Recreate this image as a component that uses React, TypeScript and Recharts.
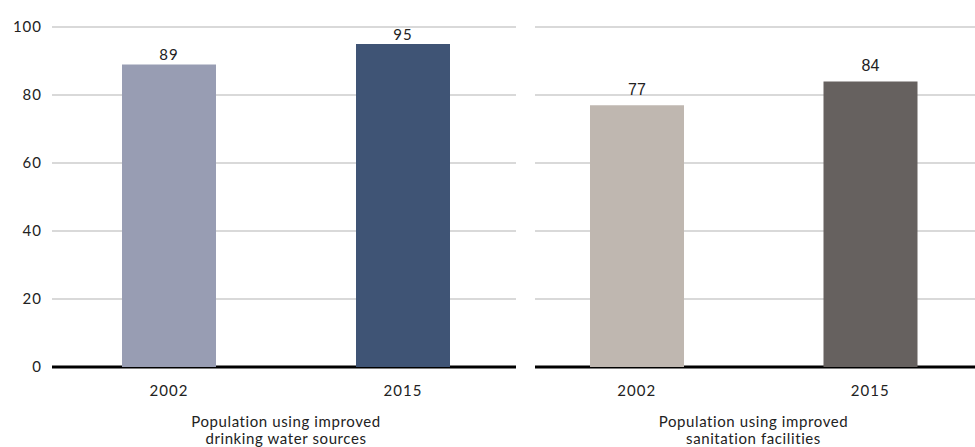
import { BarChart, Bar, XAxis, YAxis, CartesianGrid, Cell, LabelList } from 'recharts';

const years = ['2002', '2015'];
const waterValues = [89, 95];
const sanitationValues = [77, 84];
const yTicks = [0, 20, 40, 60, 80, 100];
const waterTitle = ['Population using improved', 'drinking water sources'];
const sanitationTitle = ['Population using improved', 'sanitation facilities'];

const waterColors = ['#989db3', '#3f5475'];
const sanitationColors = ['#bfb7b0', '#66615f'];

const waterData = years.map((year, i) => ({ year, value: waterValues[i] }));
const sanitationData = years.map((year, i) => ({ year, value: sanitationValues[i] }));

const FONT = 'Lato, sans-serif';
const HEIGHT = 447;
const TOP = 27;
const AXIS_H = 80;

// grey grid lines, the zero line drawn as the black baseline; trimmed at each end
const gridLine = (trimLeft: number, trimRight: number) => (props: any) => {
  const { x1, x2, y1, y2, index } = props;
  const base = Math.abs(y1 - (HEIGHT - AXIS_H)) < 1;
  return (
    <line
      key={`g-${index}`}
      x1={x1 + trimLeft}
      x2={x2 - trimRight}
      y1={y1}
      y2={y2}
      stroke={base ? '#000' : '#cccccc'}
      strokeWidth={base ? 3 : 1.5}
    />
  );
};

const subtitle = (lines: string[]) => (props: any) => {
  const { viewBox } = props;
  const cx = viewBox.x + viewBox.width / 2;
  return (
    <text
      x={cx}
      y={viewBox.y + 60}
      textAnchor="middle"
      fontSize={15}
      letterSpacing={0.6}
      fill="#222"
      fontFamily={FONT}
    >
      {lines.map((l, i) => (
        <tspan key={i} x={cx} dy={i === 0 ? 0 : 17}>
          {l}
        </tspan>
      ))}
    </text>
  );
};

const tickStyle = { fontSize: 15, fill: '#222', fontFamily: FONT, letterSpacing: 1 };

export default function App() {
  return (
    <div
      style={{
        position: 'absolute',
        left: 0,
        top: 0,
        width: 975,
        height: HEIGHT,
        overflow: 'hidden',
        background: '#fff',
        fontFamily: FONT,
      }}
    >
      <div style={{ position: 'absolute', left: 0, top: 0 }}>
        <BarChart width={520} height={HEIGHT} data={waterData} margin={{ top: TOP, right: 0, left: 0, bottom: 0 }}>
          <CartesianGrid vertical={false} horizontal={gridLine(0, 4)} />
          <XAxis
            dataKey="year"
            height={AXIS_H}
            tickLine={false}
            axisLine={false}
            tickSize={0}
            tickMargin={18}
            tick={tickStyle}
            label={{ content: subtitle(waterTitle) }}
          />
          <YAxis
            width={52}
            domain={[0, 100]}
            ticks={yTicks}
            tickLine={false}
            axisLine={false}
            tickSize={0}
            tickMargin={10}
            tick={tickStyle}
          />
          <Bar dataKey="value" barSize={94} isAnimationActive={false}>
            {waterData.map((d, i) => (
              <Cell key={d.year} fill={waterColors[i]} />
            ))}
            <LabelList
              dataKey="value"
              position="top"
              offset={4}
              style={{ fontSize: 15, fill: '#222', fontFamily: FONT, letterSpacing: 1 }}
            />
          </Bar>
        </BarChart>
      </div>
      <div style={{ position: 'absolute', left: 520, top: 0 }}>
        <BarChart width={467} height={HEIGHT} data={sanitationData} margin={{ top: TOP, right: 0, left: 0, bottom: 0 }}>
          <CartesianGrid vertical={false} horizontal={gridLine(15, 0)} />
          <XAxis
            dataKey="year"
            height={AXIS_H}
            tickLine={false}
            axisLine={false}
            tickSize={0}
            tickMargin={18}
            tick={tickStyle}
            label={{ content: subtitle(sanitationTitle) }}
          />
          <YAxis hide width={0} domain={[0, 100]} ticks={yTicks} />
          <Bar dataKey="value" barSize={94} isAnimationActive={false}>
            {sanitationData.map((d, i) => (
              <Cell key={d.year} fill={sanitationColors[i]} />
            ))}
            <LabelList
              dataKey="value"
              position="top"
              offset={10}
              style={{ fontSize: 16, fill: '#222', fontFamily: 'Liberation Sans, Arial, sans-serif' }}
            />
          </Bar>
        </BarChart>
      </div>
    </div>
  );
}
